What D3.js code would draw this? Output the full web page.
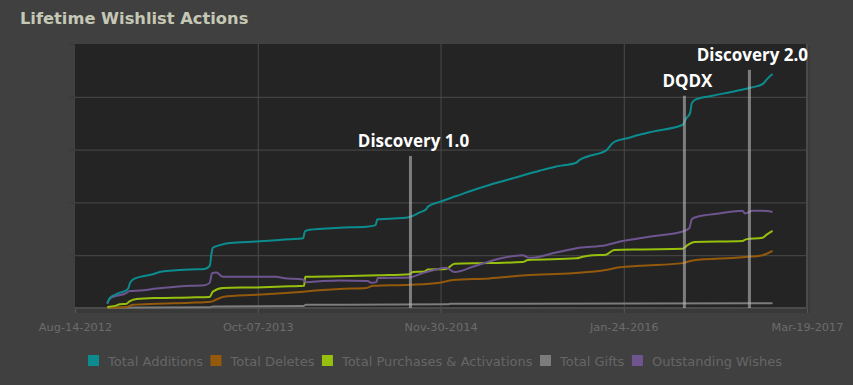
<!DOCTYPE html>
<html>
<head>
<meta charset="utf-8">
<script src="https://cdn.jsdelivr.net/npm/d3@7"></script>
<style>
  body { margin: 0; background: #404040; }
  svg { display: block; }
</style>
</head>
<body>
<svg id="chart" width="853" height="385"></svg>
<script>
var seriesNames = ["Total Additions", "Total Deletes", "Total Purchases & Activations", "Total Gifts", "Outstanding Wishes"];
var seriesColors = ["#0b8c8e", "#94590b", "#97bf0e", "#7c7c7c", "#6e5590"];
var xTicks = ["2012-08-14", "2013-10-07", "2014-11-30", "2016-01-24", "2017-03-19"];

var additions = [
  ["2012-10-27", 9], ["2012-11-02", 19], ["2012-11-14", 25], ["2012-11-25", 29], ["2012-12-06", 32],
  ["2012-12-14", 37], ["2012-12-18", 47], ["2012-12-25", 54], ["2013-01-10", 59], ["2013-02-09", 64],
  ["2013-02-24", 68], ["2013-03-27", 71], ["2013-05-04", 73], ["2013-06-07", 74], ["2013-06-19", 80],
  ["2013-06-23", 104], ["2013-06-26", 114], ["2013-07-12", 119], ["2013-08-04", 123], ["2013-10-04", 126],
  ["2013-12-19", 130], ["2014-01-19", 132], ["2014-01-23", 145], ["2014-02-03", 148], ["2014-03-05", 150],
  ["2014-04-13", 152], ["2014-06-13", 154], ["2014-07-04", 157], ["2014-07-08", 168], ["2014-08-05", 169],
  ["2014-09-18", 172], ["2014-10-13", 181], ["2014-10-28", 187], ["2014-11-01", 192], ["2014-11-28", 201],
  ["2015-01-05", 212], ["2015-02-12", 223], ["2015-03-22", 233], ["2015-04-29", 242], ["2015-06-06", 251],
  ["2015-07-15", 260], ["2015-08-22", 268], ["2015-10-07", 275], ["2015-10-14", 280], ["2015-11-02", 287],
  ["2015-12-14", 298], ["2015-12-29", 312], ["2016-01-06", 316], ["2016-01-29", 321], ["2016-02-29", 328],
  ["2016-03-30", 334], ["2016-06-07", 347], ["2016-06-15", 359], ["2016-06-24", 369], ["2016-06-28", 388],
  ["2016-07-07", 395], ["2016-08-14", 402], ["2016-10-07", 411], ["2016-11-14", 418], ["2016-12-07", 424],
  ["2016-12-18", 434], ["2016-12-30", 443]
];

var deletes = [
  ["2012-10-27", 1], ["2012-12-10", 2], ["2012-12-25", 6], ["2013-02-17", 8], ["2013-05-04", 10],
  ["2013-06-21", 12], ["2013-07-04", 16], ["2013-07-19", 21], ["2013-10-04", 25], ["2013-12-19", 29],
  ["2014-03-05", 34], ["2014-04-13", 36], ["2014-06-13", 38], ["2014-06-28", 42], ["2014-09-20", 44],
  ["2014-11-28", 48], ["2014-12-28", 53], ["2015-03-22", 56], ["2015-06-14", 62], ["2015-09-29", 66],
  ["2015-12-14", 72], ["2016-01-14", 77], ["2016-02-29", 80], ["2016-06-07", 85], ["2016-06-30", 90],
  ["2016-10-22", 96], ["2016-12-07", 100], ["2016-12-30", 108]
];

var purchases = [
  ["2012-10-27", 2], ["2012-11-14", 4], ["2012-11-25", 7], ["2012-12-10", 8], ["2012-12-16", 12],
  ["2013-01-02", 17], ["2013-02-17", 19], ["2013-05-04", 20], ["2013-06-19", 21], ["2013-06-26", 31],
  ["2013-07-19", 38], ["2013-10-04", 39], ["2013-12-19", 41], ["2014-01-21", 42], ["2014-01-24", 59],
  ["2014-04-13", 60], ["2014-07-13", 62], ["2014-09-20", 64], ["2014-09-27", 68], ["2014-10-24", 69],
  ["2014-11-01", 73], ["2014-12-13", 74], ["2015-01-01", 84], ["2015-03-22", 85], ["2015-06-06", 87],
  ["2015-06-18", 91], ["2015-10-07", 94], ["2015-10-22", 97], ["2015-11-14", 100], ["2015-12-14", 101],
  ["2016-01-02", 110], ["2016-02-29", 111], ["2016-06-07", 112], ["2016-06-18", 119], ["2016-07-04", 125],
  ["2016-10-22", 127], ["2016-10-30", 130], ["2016-12-07", 133], ["2016-12-15", 138], ["2016-12-30", 146]
];

var gifts = [
  ["2012-10-27", 0.5], ["2013-06-19", 1.5], ["2013-06-26", 3], ["2014-01-21", 4], ["2014-01-25", 6],
  ["2014-12-16", 7], ["2014-12-23", 8], ["2016-12-30", 9]
];

var wishes = [
  ["2012-10-27", 8], ["2012-11-02", 18], ["2012-11-17", 23], ["2012-12-06", 27], ["2012-12-18", 32],
  ["2013-01-10", 33], ["2013-02-17", 37], ["2013-03-27", 40], ["2013-05-04", 42], ["2013-06-07", 43],
  ["2013-06-19", 48], ["2013-06-24", 66], ["2013-07-04", 67], ["2013-07-19", 59], ["2013-08-27", 59],
  ["2013-11-19", 59], ["2013-12-04", 57], ["2014-01-19", 54], ["2014-01-26", 49], ["2014-03-05", 51],
  ["2014-04-13", 52], ["2014-06-16", 51], ["2014-06-24", 48], ["2014-07-06", 49], ["2014-07-09", 57],
  ["2014-09-20", 58], ["2014-10-20", 66], ["2014-11-20", 73], ["2014-12-13", 76], ["2015-01-01", 68],
  ["2015-02-12", 78], ["2015-04-06", 92], ["2015-06-06", 100], ["2015-06-22", 95], ["2015-08-22", 105],
  ["2015-10-14", 114], ["2015-12-14", 119], ["2016-01-21", 127], ["2016-02-29", 132], ["2016-03-30", 136],
  ["2016-06-07", 145], ["2016-06-22", 151], ["2016-06-28", 168], ["2016-07-07", 172], ["2016-08-30", 179],
  ["2016-10-22", 184], ["2016-10-28", 179], ["2016-11-14", 184], ["2016-12-07", 184], ["2016-12-30", 182]
];

var eventNames = ["Discovery 1.0", "DQDX", "Discovery 2.0"];
var eventDates = ["2014-09-22", "2016-06-11", "2016-11-07"];
var eventHeights = [288, 402, 451];

var parse = d3.timeParse("%Y-%m-%d");
var allSeries = [additions, deletes, purchases, gifts, wishes].map(function (s) {
  return s.map(function (d) { return { date: parse(d[0]), value: d[1] }; });
});

var svg = d3.select("#chart");
var plotLeft = 75, plotRight = 806, plotTop = 44, plotBottom = 308;

var x = d3.scaleTime()
  .domain([parse(xTicks[0]), parse(xTicks[xTicks.length - 1])])
  .range([plotLeft, 807]);
var y = d3.scaleLinear().domain([0, 500]).range([plotBottom, plotTop]);

// title
svg.append("text")
  .attr("x", 20).attr("y", 24)
  .style("font-family", "DejaVu Sans").style("font-weight", "bold").style("font-size", "16.3px")
  .style("fill", "#c6c8b6")
  .text("Lifetime Wishlist Actions");

// plot background + border
svg.append("rect")
  .attr("x", plotLeft + 2).attr("y", plotTop + 2)
  .attr("width", plotRight - plotLeft + 2).attr("height", plotBottom - plotTop + 3)
  .style("fill", "#393939");
svg.append("rect")
  .attr("x", plotLeft).attr("y", plotTop)
  .attr("width", plotRight - plotLeft + 2).attr("height", plotBottom - plotTop + 1)
  .style("fill", "#4a4a4a");
svg.append("rect")
  .attr("x", plotLeft).attr("y", plotTop)
  .attr("width", plotRight - plotLeft).attr("height", plotBottom - plotTop - 1)
  .style("fill", "#242424");

// y grid
svg.append("g")
  .attr("transform", "translate(" + plotLeft + ",0)")
  .call(d3.axisLeft(y).tickValues([100, 200, 300, 400]).tickSize(-(plotRight - plotLeft)).tickFormat(""))
  .call(function (g) {
    g.select(".domain").remove();
    g.selectAll("line").style("stroke", "#4b4b4b");
  });

// small y ticks on the left
svg.append("g")
  .attr("transform", "translate(" + plotLeft + ",0)")
  .call(d3.axisLeft(y).tickValues([100, 200, 300, 400, 500]).tickSize(6).tickFormat(""))
  .call(function (g) {
    g.select(".domain").remove();
    g.selectAll("line").style("stroke", "#3a3a3a");
  });

// x grid
svg.append("g")
  .attr("transform", "translate(0," + plotTop + ")")
  .call(d3.axisBottom(x).tickValues(xTicks.slice(1, -1).map(parse)).tickSize(plotBottom - plotTop).tickFormat(""))
  .call(function (g) {
    g.select(".domain").remove();
    g.selectAll("line").style("stroke", "#4b4b4b");
  });

// x axis
svg.append("g")
  .attr("transform", "translate(0," + (plotBottom + 1) + ")")
  .call(d3.axisBottom(x).tickValues(xTicks.map(parse)).tickSize(4).tickPadding(10)
    .tickFormat(d3.timeFormat("%b-%d-%Y")))
  .call(function (g) {
    g.select(".domain").remove();
    g.selectAll("line").style("stroke", "#555");
    g.selectAll("text")
      .style("font-family", "DejaVu Sans").style("font-size", "11.3px").style("fill", "#6c6c6c");
  });

// lines
var line = d3.line()
  .x(function (d) { return x(d.date); })
  .y(function (d) { return y(d.value); })
  .curve(d3.curveMonotoneX);

[3, 1, 2, 4, 0].forEach(function (i) {
  svg.append("path")
    .datum(allSeries[i])
    .attr("d", line)
    .style("fill", "none")
    .style("stroke", seriesColors[i])
    .style("stroke-width", 2)
    .style("stroke-linejoin", "round");
});

// event markers
eventNames.forEach(function (name, i) {
  var ex = x(parse(eventDates[i]));
  svg.append("line")
    .attr("x1", ex).attr("x2", ex)
    .attr("y1", y(eventHeights[i])).attr("y2", plotBottom)
    .style("stroke", "rgba(185,185,185,0.6)")
    .style("stroke-width", 3);
  svg.append("text")
    .attr("x", ex + 3).attr("y", y(eventHeights[i]) - 9)
    .attr("text-anchor", "middle")
    .style("font-family", "Open Sans").style("font-weight", "bold").style("font-size", "17px")
    .style("fill", "#ffffff")
    .text(name);
});

// legend
var lx = 88;
seriesNames.forEach(function (name, i) {
  svg.append("rect")
    .attr("x", lx).attr("y", 355).attr("width", 11).attr("height", 11)
    .style("fill", seriesColors[i]);
  var t = svg.append("text")
    .attr("x", lx + 20).attr("y", 366)
    .style("font-family", "DejaVu Sans").style("font-size", "13px").style("fill", "#666")
    .text(name);
  lx += 20 + t.node().getComputedTextLength() + 7.5;
});
</script>
</body>
</html>
